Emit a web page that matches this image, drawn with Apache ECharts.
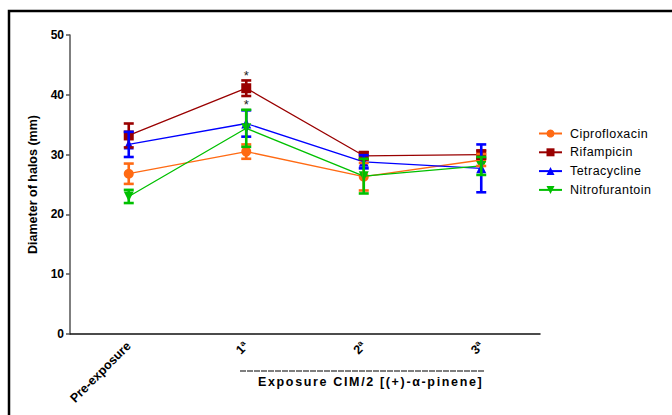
<!DOCTYPE html>
<html>
<head>
<meta charset="utf-8">
<script src="https://cdn.jsdelivr.net/npm/echarts@6/dist/echarts.min.js"></script>
<style>
  html, body { margin: 0; padding: 0; background: #fff; }
  #chart { width: 672px; height: 415px; }
  /* wide tracking for the axis caption and the legend entries */
  #chart text[fill="#010101"] { letter-spacing: 1.65px; }
  #chart text[fill="#020202"] { letter-spacing: 0.45px; }
</style>
</head>
<body>
<div id="chart"></div>
<script>
// Halo diameters (mm), mean and SD per exposure stage
const categories = ['Pre-exposure', '1ª', '2ª', '3ª'];

const ciproMean = [26.8, 30.5, 26.3, 29.1];
const ciproSD   = [1.7, 1.2, 2.3, 1.0];

const rifMean = [33.2, 41.1, 29.8, 30.0];
const rifSD   = [2.0, 1.3, 0.6, 0.7];

const tetraMean = [31.7, 35.2, 28.8, 27.7];
const tetraSD   = [2.1, 2.2, 1.1, 4.0];

const nitroMean = [23.0, 34.4, 26.4, 28.1];
const nitroSD   = [1.1, 3.1, 2.9, 1.5];

// significance marks drawn above the error bar
const rifSig   = ['', '*', '', ''];
const nitroSig = ['', '*', '', ''];
const noSig    = ['', '', '', ''];

const yTicks = { min: 0, max: 50, interval: 10 };

const FONT = '"Liberation Sans", Arial, sans-serif';

const seriesDefs = [
  { name: 'Ciprofloxacin', color: '#FF6A13', symbol: 'circle', size: 10, mean: ciproMean, sd: ciproSD, sig: noSig },
  { name: 'Rifampicin', color: '#990000', symbol: 'rect', size: 10, mean: rifMean, sd: rifSD, sig: rifSig },
  { name: 'Tetracycline', color: '#0000FF', symbol: 'triangle', size: 10, mean: tetraMean, sd: tetraSD, sig: noSig },
  { name: 'Nitrofurantoin', color: '#00C000', symbol: 'path://M0,0 L10,0 L5,9 Z', size: 10, mean: nitroMean, sd: nitroSD, sig: nitroSig }
];

function errorBarSeries(def, idx) {
  const data = def.mean.map((m, i) => [i, m - def.sd[i], m + def.sd[i]]);
  return {
    type: 'custom',
    name: def.name,
    z: 20 + idx,
    silent: true,
    data: data,
    encode: { x: 0, y: [1, 2] },
    renderItem: function (params, api) {
      const x = api.value(0);
      const lo = api.coord([x, api.value(1)]);
      const hi = api.coord([x, api.value(2)]);
      const cap = 5;
      const style = { stroke: def.color, lineWidth: 2.6 };
      const children = [
        { type: 'line', shape: { x1: lo[0], y1: lo[1], x2: hi[0], y2: hi[1] }, style },
        { type: 'line', shape: { x1: hi[0] - cap, y1: hi[1], x2: hi[0] + cap, y2: hi[1] }, style },
        { type: 'line', shape: { x1: lo[0] - cap, y1: lo[1], x2: lo[0] + cap, y2: lo[1] }, style }
      ];
      const mark = def.sig[params.dataIndex];
      if (mark) {
        children.push({
          type: 'text',
          z2: 50,
          style: {
            text: mark, x: hi[0], y: hi[1] - 5,
            align: 'center', verticalAlign: 'middle',
            font: '13px ' + FONT, fill: '#222'
          }
        });
      }
      return { type: 'group', children };
    }
  };
}

function lineSeries(def, idx) {
  return {
    type: 'line',
    name: def.name,
    data: def.mean,
    z: 10 + idx,
    symbol: def.symbol,
    symbolSize: def.size,
    lineStyle: { color: def.color, width: 1.3 },
    itemStyle: { color: def.color },
    emphasis: { disabled: true },
    animation: false
  };
}

const series = [];
seriesDefs.forEach((d, i) => {
  series.push(lineSeries(d, i));
  series.push(errorBarSeries(d, i));
});

const chart = echarts.init(document.getElementById('chart'), null, { renderer: 'svg' });

chart.setOption({
  animation: false,
  backgroundColor: '#fff',
  textStyle: { fontFamily: FONT },
  grid: { left: 70, right: 132, top: 35, bottom: 81, containLabel: false },
  legend: {
    orient: 'vertical',
    left: 533,
    top: 122,
    itemWidth: 23,
    itemHeight: 10,
    itemGap: 5.8,
    data: seriesDefs.map(d => d.name),
    textStyle: { fontSize: 12.5, color: '#020202', fontFamily: FONT, padding: [0, 0, 0, 3] }
  },
  xAxis: {
    type: 'category',
    data: categories,
    boundaryGap: true,
    axisLine: { lineStyle: { color: '#111', width: 1.5 } },
    axisTick: { alignWithLabel: true, length: 5, lineStyle: { color: '#111', width: 1.5 } },
    axisLabel: {
      rotate: 45, fontSize: 12.5, fontWeight: 'bold', color: '#000', margin: 10,
      fontFamily: FONT
    },
    splitLine: { show: false }
  },
  yAxis: {
    type: 'value',
    min: yTicks.min, max: yTicks.max, interval: yTicks.interval,
    name: 'Diameter of halos (mm)',
    nameLocation: 'middle',
    nameGap: 30,
    nameTextStyle: { fontSize: 12.5, fontWeight: 'bold', color: '#000', fontFamily: FONT },
    axisLine: { show: true, lineStyle: { color: '#555', width: 1.5 } },
    axisTick: { show: true, length: 4, lineStyle: { color: '#555', width: 1.5 } },
    axisLabel: { fontSize: 12, fontWeight: 'bold', color: '#000', margin: 6, fontFamily: FONT },
    splitLine: { show: false }
  },
  graphic: [
    {
      type: 'rect', silent: true, z: 100,
      shape: { x: 9, y: 11, width: 720, height: 460 },
      style: { fill: 'none', stroke: '#000', lineWidth: 2.5 }
    },
    {
      type: 'line', silent: true,
      shape: { x1: 240, y1: 371, x2: 485, y2: 371 },
      style: { stroke: '#000', lineWidth: 1.2, lineDash: [6, 1] }
    },
    {
      type: 'text', silent: true,
      style: {
        text: 'Exposure CIM/2 [(+)-α-pinene]',
        x: 258, y: 382, align: 'left', verticalAlign: 'middle',
        font: 'bold 12.5px ' + FONT, fill: '#010101'
      }
    }
  ],
  series: series
});
</script>
</body>
</html>
